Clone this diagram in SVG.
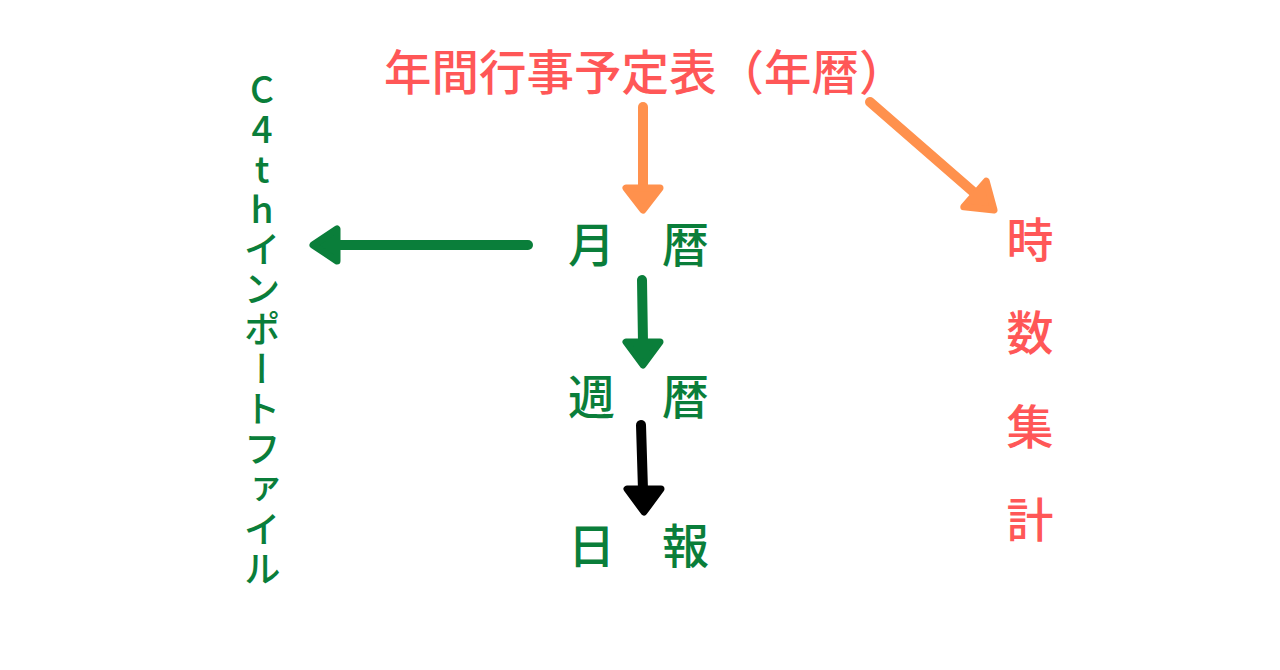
<svg xmlns="http://www.w3.org/2000/svg" width="1280" height="670" viewBox="0 0 1280 670">
<style>
text{font-family:"Noto Sans CJK JP","Noto Sans CJK SC",sans-serif;font-weight:500;}
.red{fill:#FF5757;}
.grn{fill:#0A7E3A;}
.ln{fill:none;stroke-width:10;stroke-linecap:round;}
.hd{stroke-width:7;stroke-linejoin:round;}
.o{stroke:#FF914D;}
.of{fill:#FF914D;}
.g{stroke:#0A7E3A;}
.gf{fill:#0A7E3A;}
.k{stroke:#000;}
.kf{fill:#000;}
</style>
<rect width="1280" height="670" fill="#fff"/>
<g id="title">
<text class="red" x="384" y="90" font-size="47.5">年間行事予定表（年暦）</text>
</g>
<g id="c4th">
<text class="grn" x="262" y="70" font-size="37" style="writing-mode:vertical-rl;text-orientation:upright;letter-spacing:3px">C4thインポートファイル</text>
</g>
<g id="getsureki">
<text class="grn" x="568" y="262" font-size="47">月　暦</text>
</g>
<g id="shureki">
<text class="grn" x="568" y="414" font-size="47">週　暦</text>
</g>
<g id="nippo">
<text class="grn" x="568" y="563" font-size="47">日　報</text>
</g>
<g id="jisu">
<text class="red" font-size="47" text-anchor="middle"><tspan x="1030" y="257">時</tspan><tspan x="1030" y="350">数</tspan><tspan x="1030" y="444">集</tspan><tspan x="1030" y="537">計</tspan></text>
</g>
<g id="connectors">
<line class="ln o" x1="643" y1="107" x2="643" y2="190"/>
<polygon class="hd o of" points="626,188 660,188 643,210"/>
<line class="ln o" x1="870" y1="102" x2="978" y2="196"/>
<polygon class="hd o of" points="994,210 963.8,206.8 986.2,181.2"/>
<line class="ln g" x1="528" y1="245" x2="334" y2="245"/>
<polygon class="hd g gf" points="313,245 337,229 337,261"/>
<line class="ln g" x1="642" y1="280" x2="643" y2="343"/>
<polygon class="hd g gf" points="626,342 660,342 643,365"/>
<line class="ln k" x1="641" y1="425" x2="643" y2="490"/>
<polygon class="hd k kf" points="627,489 661,489 644,512"/>
</g>
</svg>
